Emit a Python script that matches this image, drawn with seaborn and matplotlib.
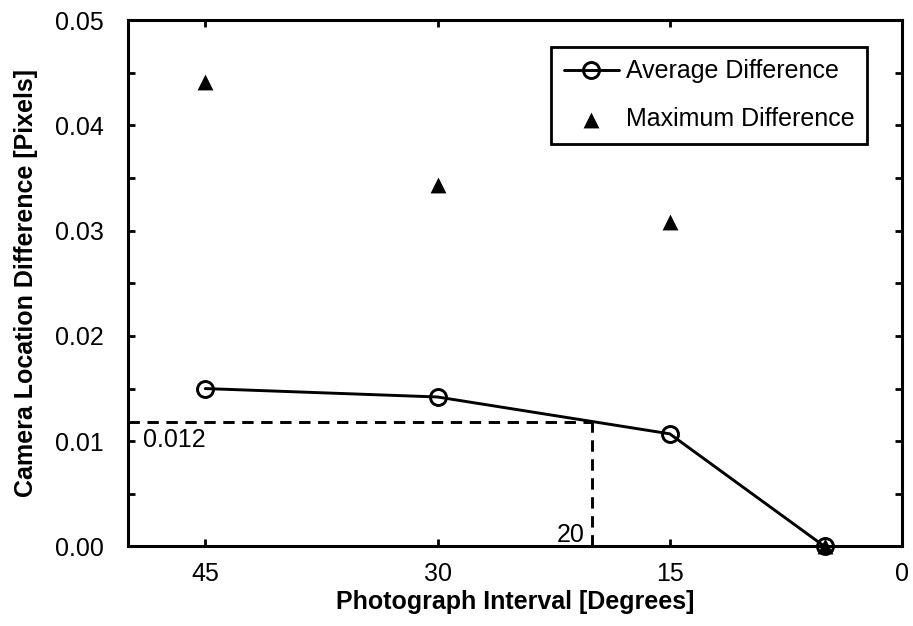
import numpy as np
import pandas as pd
import seaborn as sns
import matplotlib.pyplot as plt

# values
interval = [45, 30, 15, 5]
avg_diff = [0.0150, 0.0142, 0.0107, 0.0]
max_diff = [0.0441, 0.0343, 0.0308, 0.0]
ref_interval = 20
ref_diff = 0.0118
ref_labels = ['0.012', '20']

df = pd.DataFrame({'interval': interval, 'avg': avg_diff, 'max': max_diff})

sns.set_theme(style='ticks')
plt.rcParams['font.family'] = ['Liberation Sans', 'DejaVu Sans']
plt.rcParams['axes.edgecolor'] = 'black'
plt.rcParams['axes.linewidth'] = 2.2
plt.rcParams['text.color'] = 'black'
plt.rcParams['axes.labelcolor'] = 'black'

fig = plt.figure(figsize=(9.13, 6.26), dpi=100)
ax = fig.add_axes([0.14, 0.127, 0.848, 0.841])

# reference dashed lines
dash = (0, (3.9, 2.6))
ax.plot([50, ref_interval], [ref_diff, ref_diff], color='black', lw=2.1, ls=dash, zorder=1)
ax.plot([ref_interval, ref_interval], [0, ref_diff], color='black', lw=2.1, ls=dash, zorder=1)

sns.scatterplot(data=df, x='interval', y='max', marker='^', s=130, color='black',
                edgecolor='black', linewidth=0, label='Maximum Difference', ax=ax, zorder=3,
                clip_on=False)
sns.lineplot(data=df, x='interval', y='avg', color='black', lw=2.1, marker='o', markersize=11.5,
             markerfacecolor='none', markeredgecolor='black', markeredgewidth=2.1,
             label='Average Difference', ax=ax, zorder=4, clip_on=False)

ax.text(49.0, 0.0101, ref_labels[0], fontsize=18, ha='left', va='center')
ax.text(20.5, 0.0011, ref_labels[1], fontsize=18, ha='right', va='center')

ax.set_xlim(50, 0)
ax.set_ylim(0, 0.05)
ax.set_xticks([45, 30, 15, 0])
ax.set_yticks(np.arange(0, 0.051, 0.01))
ax.set_yticks(np.arange(0.005, 0.05, 0.01), minor=True)
ax.set_yticklabels(['0.00', '0.01', '0.02', '0.03', '0.04', '0.05'])
ax.tick_params(axis='both', which='both', direction='in', top=True, right=True,
               length=5, width=2, labelsize=18, colors='black')
ax.tick_params(axis='x', pad=11)
ax.tick_params(axis='y', pad=17)

ax.set_xlabel('Photograph Interval [Degrees]', fontsize=18, fontweight='bold')
ax.set_ylabel('Camera Location Difference [Pixels]', fontsize=18, fontweight='bold')
ax.xaxis.set_label_coords(0.5, -0.082)
ax.yaxis.set_label_coords(-0.116, 0.5)

handles, labels = ax.get_legend_handles_labels()
order = [labels.index('Average Difference'), labels.index('Maximum Difference')]
leg = ax.legend([handles[i] for i in order], [labels[i] for i in order], loc='upper right',
                bbox_to_anchor=(0.955, 0.949), fontsize=18, frameon=True, fancybox=False,
                handlelength=2.2, handletextpad=0.3, borderpad=0.5, labelspacing=0.95,
                borderaxespad=0)
leg.get_frame().set_edgecolor('black')
leg.get_frame().set_linewidth(2.0)
leg.get_frame().set_alpha(1)

fig.savefig('out.png', dpi=100)
